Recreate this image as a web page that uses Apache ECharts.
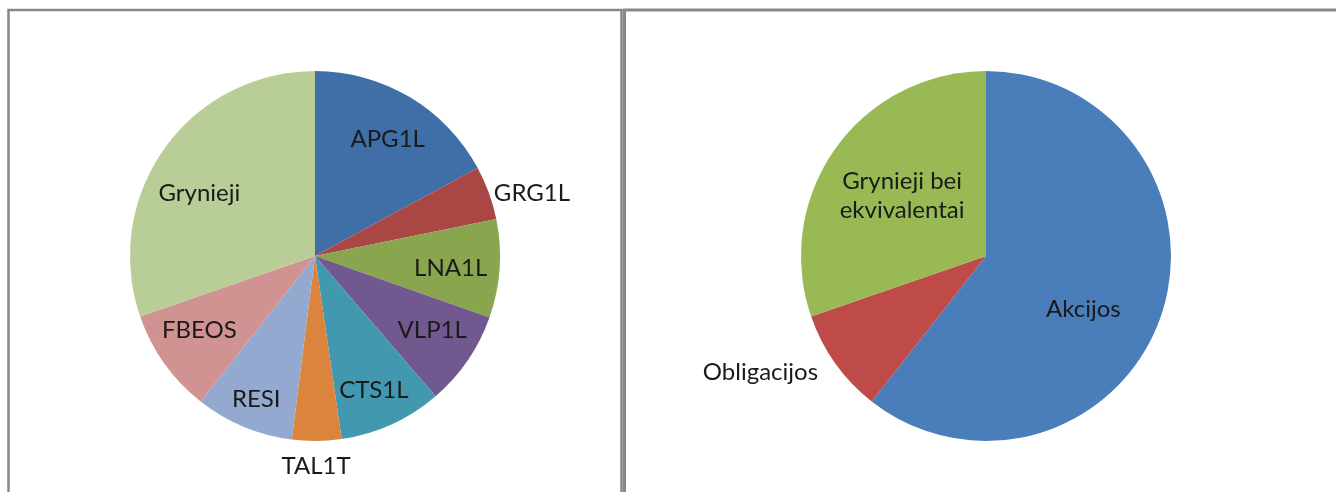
<!DOCTYPE html>
<html>
<head>
<meta charset="utf-8">
<script src="https://cdn.jsdelivr.net/npm/echarts@6/dist/echarts.min.js"></script>
<style>
  html, body { margin: 0; padding: 0; background: #fff; }
  #main { width: 1336px; height: 492px; }
</style>
</head>
<body>
<div id="main"></div>
<script>
// 左边的饼图: 各个持仓 (%)
var leftNames = ['APG1L', 'GRG1L', 'LNA1L', 'VLP1L', 'CTS1L', 'TAL1T', 'RESI', 'FBEOS', 'Grynieji'];
var leftValues = [17.1, 4.7, 8.6, 8.3, 9.0, 4.3, 8.6, 9.1, 30.3];
var leftColors = ['#3F6FA6', '#AA4643', '#89A54E', '#71588F', '#4198AF', '#DB843D', '#93A9CF', '#D19392', '#B9CD96'];

// 右边的饼图: 资产类别 (%)
var rightNames = ['Akcijos', 'Obligacijos', 'Grynieji bei\nekvivalentai'];
var rightValues = [60.6, 9.1, 30.3];
var rightColors = ['#4A7EBB', '#BE4B48', '#98B954'];

// 放在饼外面的标签
var outsideLabels = { 'GRG1L': 0, 'TAL1T': 25, 'Obligacijos': 15 };
// 微调标签位置 [dx, dy, align]
var labelShift = {
    'TAL1T': [-6, 0, 'center'],
    'Akcijos': [0, 20],
    'Grynieji': [0, 20],
    'RESI': [-4, 12],
    'FBEOS': [0, -8],
    'APG1L': [0, 5],
    'LNA1L': [-6, 2],
    'VLP1L': [0, -6],
    'CTS1L': [0, 5]
};

var labelFont = {
    fontFamily: 'Lato, "Open Sans", sans-serif',
    fontSize: 24,
    color: '#1a1a1a',
    lineHeight: 29
};

function mainData(names, values, colors) {
    return names.map(function (n, i) {
        var item = { name: n, value: values[i], itemStyle: { color: colors[i] } };
        if (outsideLabels[n] !== undefined) {
            item.label = { show: true, position: 'outside' };
            item.labelLine = { show: false, length: outsideLabels[n], length2: 0 };
        }
        return item;
    });
}

function overlayData(names, values) {
    return names.map(function (n, i) {
        return {
            name: n,
            value: values[i],
            label: { show: outsideLabels[n] === undefined }
        };
    });
}

function shifter(names) {
    return function (params) {
        var s = labelShift[names[params.dataIndex]];
        if (!s) return {};
        var r = { dx: s[0], dy: s[1] };
        if (s[2]) r.align = s[2];
        return r;
    };
}

var myChart = echarts.init(document.getElementById('main'));

var option = {
    animation: false,
    backgroundColor: '#fff',
    graphic: [
        {
            type: 'rect',
            shape: { x: 8.5, y: 10, width: 613, height: 600 },
            style: { fill: 'none', stroke: '#878787', lineWidth: 2.5 },
            silent: true
        },
        {
            type: 'rect',
            shape: { x: 624.5, y: 10, width: 800, height: 600 },
            style: { fill: 'none', stroke: '#878787', lineWidth: 3 },
            silent: true
        }
    ],
    series: [
        {
            type: 'pie',
            center: [315, 256],
            radius: [0, 185],
            startAngle: 90,
            clockwise: true,
            silent: true,
            avoidLabelOverlap: false,
            label: Object.assign({ show: false, position: 'outside' }, labelFont),
            labelLine: { show: false },
            labelLayout: shifter(leftNames),
            itemStyle: { borderWidth: 0 },
            data: mainData(leftNames, leftValues, leftColors)
        },
        {
            // 透明的饼, 只用来放里面的标签
            type: 'pie',
            center: [315, 256],
            radius: [0, 278],
            startAngle: 90,
            silent: true,
            avoidLabelOverlap: false,
            label: Object.assign({ position: 'inside' }, labelFont),
            labelLine: { show: false },
            labelLayout: shifter(leftNames),
            itemStyle: { color: 'rgba(0,0,0,0)', borderWidth: 0 },
            data: overlayData(leftNames, leftValues)
        },
        {
            type: 'pie',
            center: [986, 256],
            radius: [0, 185],
            startAngle: 90,
            silent: true,
            avoidLabelOverlap: false,
            label: Object.assign({ show: false, position: 'outside' }, labelFont),
            labelLine: { show: false },
            labelLayout: shifter(rightNames),
            itemStyle: { borderWidth: 0 },
            data: mainData(rightNames, rightValues, rightColors)
        },
        {
            type: 'pie',
            center: [986, 256],
            radius: [0, 200],
            startAngle: 90,
            silent: true,
            avoidLabelOverlap: false,
            label: Object.assign({ position: 'inside' }, labelFont),
            labelLine: { show: false },
            labelLayout: shifter(rightNames),
            itemStyle: { color: 'rgba(0,0,0,0)', borderWidth: 0 },
            data: overlayData(rightNames, rightValues)
        }
    ]
};

myChart.setOption(option);
</script>
</body>
</html>
